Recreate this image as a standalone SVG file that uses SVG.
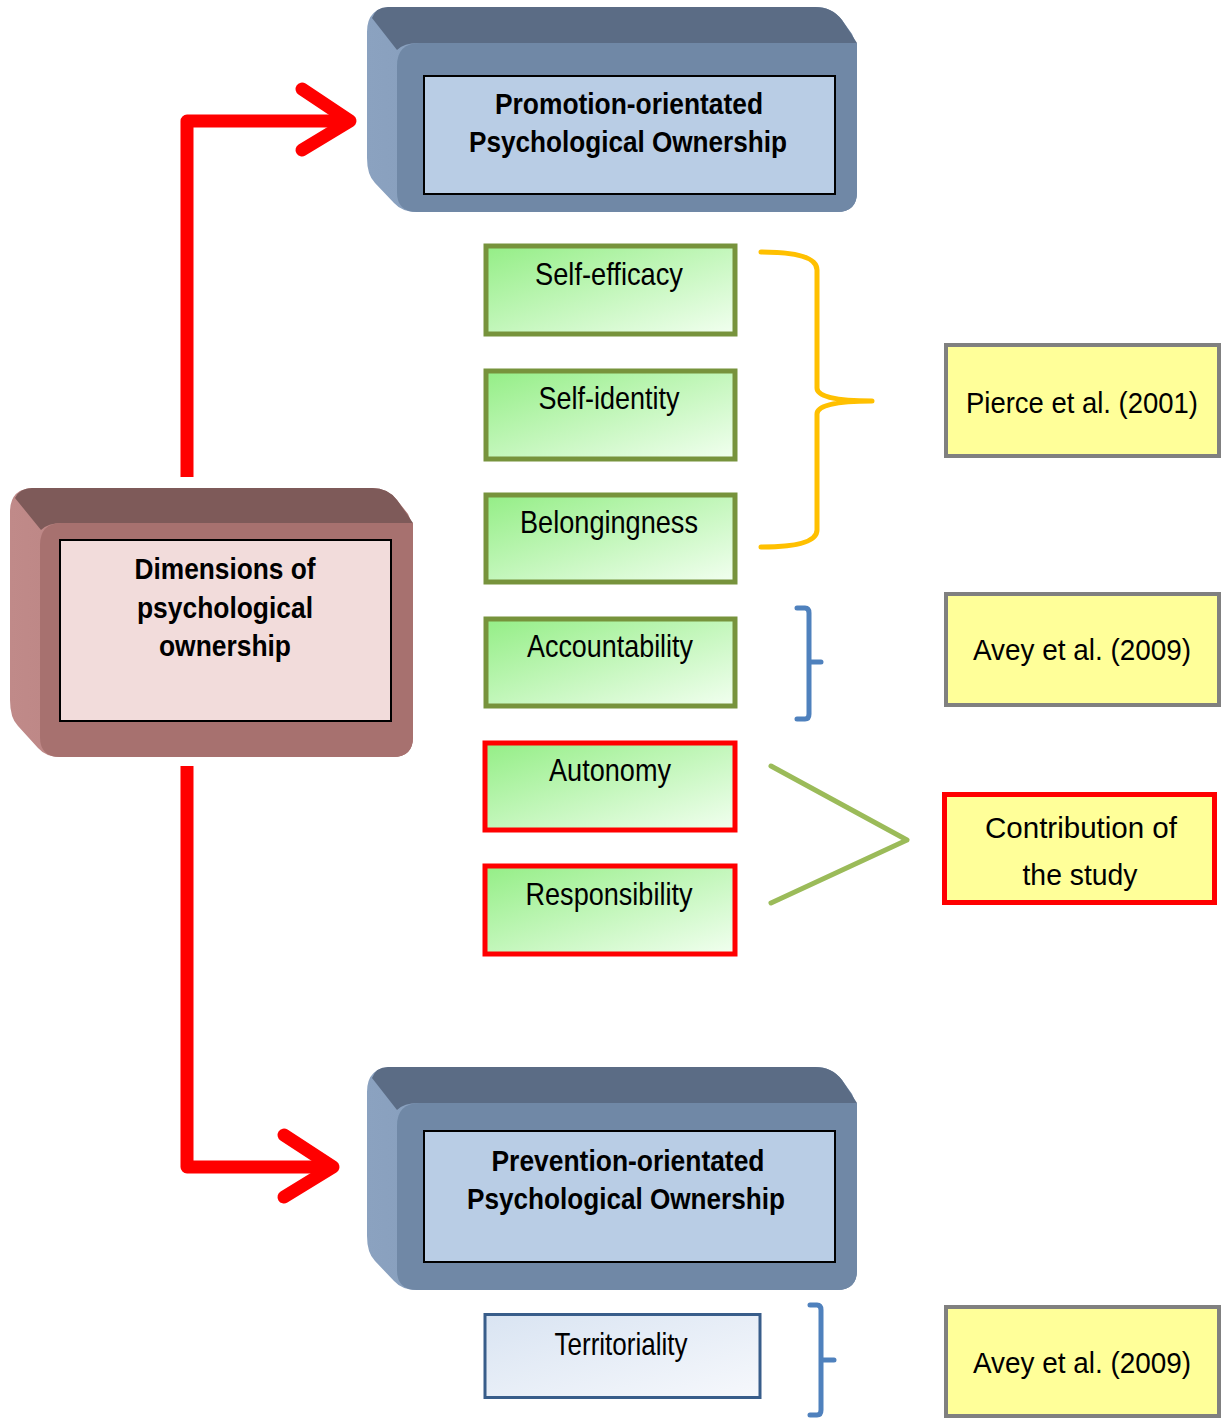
<svg xmlns="http://www.w3.org/2000/svg" width="1223" height="1418" viewBox="0 0 1223 1418">
<defs>
<linearGradient id="gGreen" x1="0" y1="0" x2="1" y2="1">
<stop offset="0" stop-color="#94ee86"/>
<stop offset="1" stop-color="#f2fff0"/>
</linearGradient>
<linearGradient id="gTerr" x1="0" y1="0" x2="1" y2="1">
<stop offset="0" stop-color="#d9e4f2"/>
<stop offset="1" stop-color="#f6f8fc"/>
</linearGradient>
<linearGradient id="gBlueSide" x1="0" y1="0" x2="1" y2="0">
<stop offset="0" stop-color="#8ba2c0"/>
<stop offset="1" stop-color="#7088a6"/>
</linearGradient>
<linearGradient id="gPinkSide" x1="0" y1="0" x2="1" y2="0">
<stop offset="0" stop-color="#c08a89"/>
<stop offset="1" stop-color="#a8726f"/>
</linearGradient>
</defs>
<style>
.t{font-family:"Liberation Sans",Arial,sans-serif;fill:#000;text-anchor:middle}
.b{font-weight:bold;font-size:29px}
.g{font-size:32px}
.y{font-size:30px}
.green{fill:url(#gGreen);stroke:#77933c;stroke-width:5}
.redb{fill:url(#gGreen);stroke:#ff0000;stroke-width:5}
.yel{fill:#ffff99;stroke:#808080;stroke-width:4}
.yelr{fill:#ffff99;stroke:#ff0000;stroke-width:5}
.inner{stroke:#000;stroke-width:2}
.line{fill:none;stroke:#ff0000;stroke-width:13;stroke-linecap:butt;stroke-linejoin:round}
.arrow{fill:none;stroke:#ff0000;stroke-width:13;stroke-linecap:round;stroke-linejoin:round}
.brace{fill:none;stroke-width:5;stroke-linecap:round;stroke-linejoin:round}
</style>

<g id="connectors">
<path class="line" d="M187 477 V121 H345"/>
<path class="arrow" d="M302 89 L350 121 L302 150"/>
<path class="line" d="M187 766 V1167 H328"/>
<path class="arrow" d="M284 1135 L333 1167 L284 1197"/>
<path class="brace" stroke="#ffc000" d="M761 252 Q817 252 817 270 V388 Q817 401 872 401 Q817 401 817 414 V530 Q817 547 761 547"/>
<path class="brace" stroke="#4f81bd" d="M797 608 H805 Q809 608 809 613 V662 H821 M809 662 V714 Q809 719 805 719 H797"/>
<path class="brace" stroke="#9bbb59" stroke-width="6" d="M771 766 L907 840 L771 903"/>
<path class="brace" stroke="#4f81bd" d="M810 1305 H817 Q821 1305 821 1310 V1360 H834 M821 1360 V1410 Q821 1415 817 1415 H810"/>
</g>

<g id="node-promotion">
<path fill="url(#gBlueSide)" d="M392 7 H815 Q832 7 842 20 L852 34 Q857 43 857 62 V192 Q857 212 837 212 H417 Q402 212 394 203 L375 183 Q367 175 367 158 V32 Q367 7 392 7 Z"/>
<path fill="#5b6c85" d="M388 7 H815 Q832 7 842 20 L857 43 H418 Q404 43 397 50 L372 18 Q376 7 388 7 Z"/>
<path fill="#7088a6" d="M420 43 H857 V192 Q857 212 837 212 H417 Q397 212 397 192 V66 Q397 43 420 43 Z"/>
<rect class="inner" x="424" y="76" width="411" height="118" fill="#b9cde5"/>
<text class="t b" x="629" y="114" textLength="268" lengthAdjust="spacingAndGlyphs">Promotion-orientated</text>
<text class="t b" x="628" y="152" textLength="318" lengthAdjust="spacingAndGlyphs">Psychological Ownership</text>
</g>

<g id="node-dimensions">
<path fill="url(#gPinkSide)" d="M34 488 H372 Q388 488 397 500 L408 514 Q413 523 413 540 V737 Q413 757 393 757 H60 Q46 757 38 748 L18 726 Q10 718 10 700 V512 Q10 488 34 488 Z"/>
<path fill="#7e5a59" d="M32 488 H372 Q388 488 397 500 L413 523 H62 Q48 523 41 530 L15 498 Q20 488 32 488 Z"/>
<path fill="#a7716f" d="M62 523 H413 V737 Q413 757 393 757 H60 Q40 757 40 737 V545 Q40 523 62 523 Z"/>
<rect class="inner" x="60" y="540" width="331" height="181" fill="#f2dcdb"/>
<text class="t b" x="225" y="579" textLength="181" lengthAdjust="spacingAndGlyphs">Dimensions of</text>
<text class="t b" x="225" y="618" textLength="176" lengthAdjust="spacingAndGlyphs">psychological</text>
<text class="t b" x="225" y="656" textLength="132" lengthAdjust="spacingAndGlyphs">ownership</text>
</g>

<g id="node-prevention">
<path fill="url(#gBlueSide)" d="M392 1067 H815 Q832 1067 842 1080 L852 1094 Q857 1103 857 1122 V1270 Q857 1290 837 1290 H417 Q402 1290 394 1281 L375 1261 Q367 1253 367 1236 V1092 Q367 1067 392 1067 Z"/>
<path fill="#5b6c85" d="M388 1067 H815 Q832 1067 842 1080 L857 1103 H418 Q404 1103 397 1110 L372 1078 Q376 1067 388 1067 Z"/>
<path fill="#7088a6" d="M420 1103 H857 V1270 Q857 1290 837 1290 H417 Q397 1290 397 1270 V1126 Q397 1103 420 1103 Z"/>
<rect class="inner" x="424" y="1131" width="411" height="131" fill="#b9cde5"/>
<text class="t b" x="628" y="1171" textLength="273" lengthAdjust="spacingAndGlyphs">Prevention-orientated</text>
<text class="t b" x="626" y="1209" textLength="318" lengthAdjust="spacingAndGlyphs">Psychological Ownership</text>
</g>

<g id="node-self-efficacy">
<rect class="green" x="486" y="246" width="249" height="88"/>
<text class="t g" x="609" y="285" textLength="148" lengthAdjust="spacingAndGlyphs">Self-efficacy</text>
</g>
<g id="node-self-identity">
<rect class="green" x="486" y="371" width="249" height="88"/>
<text class="t g" x="609" y="409" textLength="141" lengthAdjust="spacingAndGlyphs">Self-identity</text>
</g>
<g id="node-belongingness">
<rect class="green" x="486" y="495" width="249" height="87"/>
<text class="t g" x="609" y="533" textLength="178" lengthAdjust="spacingAndGlyphs">Belongingness</text>
</g>
<g id="node-accountability">
<rect class="green" x="486" y="619" width="249" height="87"/>
<text class="t g" x="610" y="657" textLength="166" lengthAdjust="spacingAndGlyphs">Accountability</text>
</g>
<g id="node-autonomy">
<rect class="redb" x="485" y="743" width="250" height="87"/>
<text class="t g" x="610" y="781" textLength="122" lengthAdjust="spacingAndGlyphs">Autonomy</text>
</g>
<g id="node-responsibility">
<rect class="redb" x="485" y="866" width="250" height="88"/>
<text class="t g" x="609" y="905" textLength="167" lengthAdjust="spacingAndGlyphs">Responsibility</text>
</g>
<g id="node-territoriality">
<rect x="485" y="1314.5" width="275" height="83" fill="url(#gTerr)" stroke="#385d8a" stroke-width="3"/>
<text class="t g" x="621" y="1355" textLength="133" lengthAdjust="spacingAndGlyphs">Territoriality</text>
</g>

<g id="node-pierce">
<rect class="yel" x="946" y="345" width="273" height="111"/>
<text class="t y" x="1082" y="413" textLength="232" lengthAdjust="spacingAndGlyphs">Pierce et al. (2001)</text>
</g>
<g id="node-avey1">
<rect class="yel" x="946" y="594" width="273" height="111"/>
<text class="t y" x="1082" y="660" textLength="218" lengthAdjust="spacingAndGlyphs">Avey et al. (2009)</text>
</g>
<g id="node-contribution">
<rect class="yelr" x="944.5" y="794.5" width="270" height="108"/>
<text class="t y" x="1081" y="838" textLength="192" lengthAdjust="spacingAndGlyphs">Contribution of</text>
<text class="t y" x="1080" y="885" textLength="115" lengthAdjust="spacingAndGlyphs">the study</text>
</g>
<g id="node-avey2">
<rect class="yel" x="946" y="1307" width="273" height="109"/>
<text class="t y" x="1082" y="1373" textLength="218" lengthAdjust="spacingAndGlyphs">Avey et al. (2009)</text>
</g>
</svg>
